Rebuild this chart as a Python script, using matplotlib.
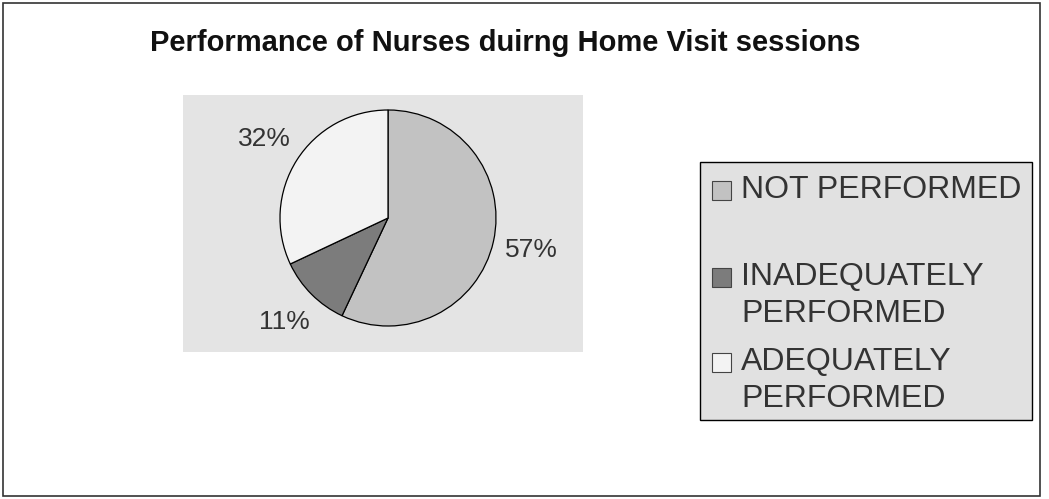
import matplotlib
matplotlib.use("Agg")
import matplotlib.pyplot as plt
from matplotlib.patches import Rectangle

plt.rcParams['font.family'] = ['Liberation Sans', 'DejaVu Sans']

# data
categories = ["NOT PERFORMED", "INADEQUATELY\nPERFORMED", "ADEQUATELY\nPERFORMED"]
values = [57, 11, 32]
colors = ["#c2c2c2", "#7c7c7c", "#f3f3f3"]
title = "Performance of Nurses duirng Home Visit sessions"

W, H = 1049, 499
fig = plt.figure(figsize=(W / 100, H / 100), dpi=100)
fig.patch.set_facecolor("white")

def fx(px):
  return px / W

def fy(py):
  return 1 - py / H

# outer frame
fig.patches.append(Rectangle((fx(3), fy(496)), fx(1040) - fx(3), fy(3) - fy(496),
                             transform=fig.transFigure, fill=False,
                             edgecolor="#333333", linewidth=1.2))

fig.text(fx(505), fy(43), title, ha="center", va="center",
         fontsize=21, fontweight="bold", color="#111111")

# grey plot area with pie (data units == pixels)
x0, x1, y0, y1 = 183, 583, 95, 352
ax = fig.add_axes([fx(x0), fy(y1), fx(x1) - fx(x0), fy(y0) - fy(y1)])
wedges, texts, autotexts = ax.pie(values, colors=colors, startangle=90, counterclock=False,
                                  center=(388, H - 218), radius=108,
                                  autopct='%1.0f%%', pctdistance=1.36,
                                  wedgeprops=dict(edgecolor="black", linewidth=0.9),
                                  textprops=dict(fontsize=19, color="#333333"))
ax.set_xlim(x0, x1)
ax.set_ylim(H - y1, H - y0)
ax.set_aspect("auto")
ax.set_frame_on(True)  # pie turns the frame off, which also hides the grey patch
ax.set_facecolor("#e4e4e4")
for s in ax.spines.values():
  s.set_visible(False)
ax.set_xticks([])
ax.set_yticks([])

# legend box drawn by hand
fig.patches.append(Rectangle((fx(700), fy(420)), fx(1032) - fx(700), fy(162) - fy(420),
                             transform=fig.transFigure, facecolor="#e1e1e1",
                             edgecolor="black", linewidth=1.0))
baselines = [198, 285, 370]
line_step = 37
for cat, col, base in zip(categories, colors, baselines):
  fig.patches.append(Rectangle((fx(712), fy(base + 2)), fx(19), 19 / H,
                               transform=fig.transFigure, facecolor=col,
                               edgecolor="#444444", linewidth=0.8))
  for i, line in enumerate(cat.split("\n")):
    fig.text(fx(741), fy(base + i * line_step), line, ha="left", va="baseline",
             fontsize=23, color="#333333")

fig.savefig("out.png", dpi=100)
